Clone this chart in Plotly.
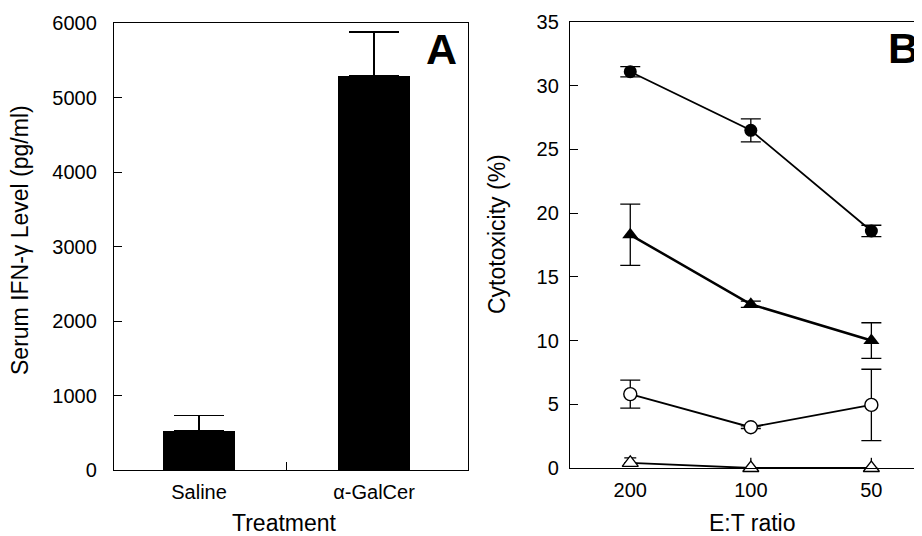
import plotly.graph_objects as go

# ---------------- data ----------------
treatments = ["Saline", "α-GalCer"]
ifn_mean = [530, 5290]
ifn_err = [200, 590]

et_ratios = ["200", "100", "50"]
filled_circle = [31.1, 26.5, 18.6]
filled_circle_err = [0.4, 0.9, 0.45]
filled_tri = [18.3, 12.85, 10.0]
filled_tri_err = [2.4, 0.25, 1.4]
open_circle = [5.8, 3.2, 4.95]
open_circle_err = [1.1, 0.1, 2.8]
open_tri = [0.4, 0.0, 0.0]
open_tri_err = [0.4, 0.0, 0.0]
open_tri_stub = [0.8, 0.8]

ifn_ticks = [0, 1000, 2000, 3000, 4000, 5000, 6000]
cyto_ticks = [0, 5, 10, 15, 20, 25, 30, 35]

# ---------------- layout helpers ----------------
# the page body has an 8 px margin, so the figure is drawn 8 px right/down
OFF = 8
W, H = 922 - OFF, 536 - OFF
FONT = "Liberation Sans, Arial, Helvetica, sans-serif"


def px(x):
    return (x - OFF) / W


def py(y):
    return 1 - (y - OFF) / H


fig = go.Figure()

# Panel A: bars
xa = list(range(len(treatments)))
fig.add_trace(go.Bar(
    x=xa, y=ifn_mean, width=0.41,
    marker=dict(color="black", line=dict(width=0)),
    error_y=dict(type="data", array=ifn_err, arrayminus=[0] * len(ifn_err),
                 symmetric=False, color="black", thickness=1.2, width=25),
    xaxis="x", yaxis="y", showlegend=False,
))

# Panel B: lines
line_kw = dict(xaxis="x2", yaxis="y2", showlegend=False, mode="lines+markers", cliponaxis=False)

# stubs above open triangles (error bars without caps)
fig.add_trace(go.Scatter(
    x=et_ratios[1:], y=open_tri[1:], mode="markers",
    marker=dict(size=1, color="rgba(0,0,0,0)"),
    error_y=dict(type="data", array=open_tri_stub, arrayminus=[0, 0], symmetric=False,
                 color="black", thickness=1.3, width=0),
    xaxis="x2", yaxis="y2", showlegend=False, hoverinfo="skip", cliponaxis=False,
))

fig.add_trace(go.Scatter(
    x=et_ratios, y=open_tri,
    line=dict(color="black", width=1.8),
    marker=dict(symbol="triangle-up", size=14, color="white",
                line=dict(color="black", width=1.3)),
    error_y=dict(type="data", array=open_tri_err, arrayminus=[0, 0, 0], symmetric=False,
                 color="black", thickness=1.3, width=6),
    **line_kw,
))

fig.add_trace(go.Scatter(
    x=et_ratios, y=open_circle,
    line=dict(color="black", width=1.8),
    marker=dict(symbol="circle", size=13, color="white",
                line=dict(color="black", width=1.4)),
    error_y=dict(type="data", array=open_circle_err, color="black", thickness=1.3, width=10),
    **line_kw,
))

fig.add_trace(go.Scatter(
    x=et_ratios, y=filled_tri,
    line=dict(color="black", width=2.5),
    marker=dict(symbol="triangle-up", size=14, color="black"),
    error_y=dict(type="data", array=filled_tri_err, color="black", thickness=1.3, width=10),
    **line_kw,
))

fig.add_trace(go.Scatter(
    x=et_ratios, y=filled_circle,
    line=dict(color="black", width=1.8),
    marker=dict(symbol="circle", size=13, color="black"),
    error_y=dict(type="data", array=filled_circle_err, color="black", thickness=1.3, width=10),
    **line_kw,
))

tickfont = dict(family=FONT, size=20, color="black")
title_font = dict(family=FONT, size=23, color="black")

fig.update_layout(
    template="none",
    width=W, height=H,
    autosize=False,
    margin=dict(l=0, r=0, t=0, b=0, pad=0, autoexpand=False),
    paper_bgcolor="white", plot_bgcolor="white",
    font=dict(family=FONT, color="black"),
    bargap=0,
    showlegend=False,
    xaxis=dict(
        domain=[px(114), px(468)], range=[-0.486, 1.537], automargin=False,
        tickmode="array", tickvals=xa, ticktext=treatments, ticks="",
        minor=dict(tickmode="array", tickvals=[i + 0.5 for i in xa[:-1]],
                   ticks="inside", ticklen=8, tickcolor="black", tickwidth=1, showgrid=False),
        showline=True, linecolor="black", linewidth=1.3, mirror=True,
        showgrid=False, zeroline=False, tickfont=tickfont, ticklabelstandoff=4,
        anchor="y",
    ),
    yaxis=dict(
        domain=[py(470), py(23)], range=[0, 6000], automargin=False,
        tickmode="array", tickvals=ifn_ticks, ticks="inside", ticklen=8,
        tickcolor="black", tickwidth=1,
        showline=True, linecolor="black", linewidth=1.3, mirror=True,
        showgrid=False, zeroline=False, tickfont=tickfont, ticklabelstandoff=12,
        anchor="x",
    ),
    xaxis2=dict(
        domain=[px(570), 1.0], range=[-0.5, 2.42], type="category", automargin=False,
        categoryorder="array", categoryarray=et_ratios,
        tickmode="array", tickvals=et_ratios, ticktext=et_ratios, ticks="",
        showline=True, linecolor="black", linewidth=1.3, mirror=True,
        showgrid=False, zeroline=False, tickfont=tickfont, ticklabelstandoff=4,
        anchor="y2",
    ),
    yaxis2=dict(
        domain=[py(468), py(22)], range=[0, 35], automargin=False,
        tickmode="array", tickvals=cyto_ticks, ticks="inside", ticklen=8,
        tickcolor="black", tickwidth=1,
        showline=True, linecolor="black", linewidth=1.3, mirror=False,
        showgrid=False, zeroline=False, tickfont=tickfont, ticklabelstandoff=6,
        anchor="x2",
    ),
    annotations=[
        dict(text="Serum IFN-γ Level (pg/ml)", x=px(20), y=py(240), xref="paper", yref="paper",
             textangle=-90, showarrow=False, font=title_font, xanchor="center", yanchor="middle"),
        dict(text="Treatment", x=px(284), y=py(523), xref="paper", yref="paper",
             showarrow=False, font=title_font, xanchor="center", yanchor="middle"),
        dict(text="Cytotoxicity (%)", x=px(497), y=py(234), xref="paper", yref="paper",
             textangle=-90, showarrow=False, font=title_font, xanchor="center", yanchor="middle"),
        dict(text="E:T ratio", x=px(752), y=py(523), xref="paper", yref="paper",
             showarrow=False, font=title_font, xanchor="center", yanchor="middle"),
        dict(text="<b>A</b>", x=px(441), y=py(49), xref="paper", yref="paper",
             showarrow=False, font=dict(family=FONT, size=43, color="black"),
             xanchor="center", yanchor="middle"),
        dict(text="<b>B</b>", x=px(921), y=py(48), xref="paper", yref="paper",
             showarrow=False, font=dict(family=FONT, size=43, color="black"),
             xanchor="right", yanchor="middle"),
    ],
)

fig.write_html("out.html")
